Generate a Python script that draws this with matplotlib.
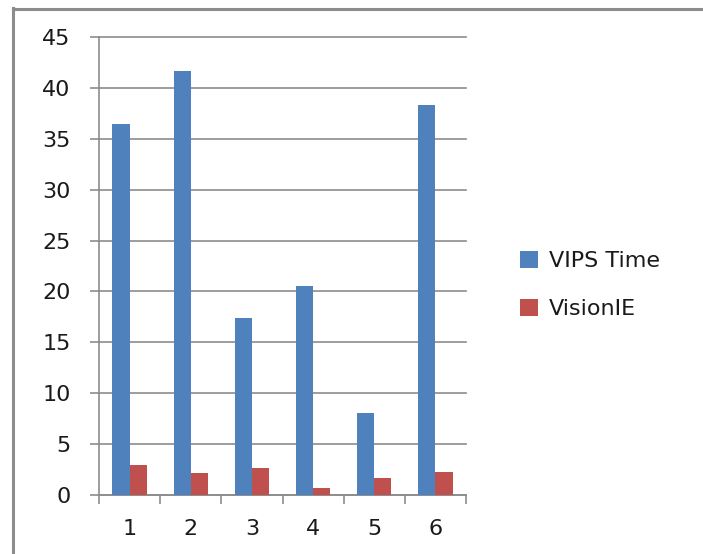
import matplotlib.pyplot as plt
import numpy as np
from matplotlib.patches import Patch
from matplotlib.lines import Line2D

# data
categories = ["1", "2", "3", "4", "5", "6"]
vips_time = [36.5, 41.7, 17.4, 20.5, 8.1, 38.3]
vision_ie = [2.9, 2.2, 2.65, 0.65, 1.7, 2.3]
series_names = ["VIPS Time", "VisionIE"]

blue = "#4f81bd"
red = "#c0504d"
grid_col = "#8c8c8c"
text_col = "#1a1a1a"

W, H = 703, 554
fig = plt.figure(figsize=(W / 100, H / 100), dpi=100)
fig.patch.set_facecolor("white")

# outer chart frame (only left/top visible in the crop)
fig.add_artist(Line2D([12.5 / W, 12.5 / W], [0, 1 - 8 / H], transform=fig.transFigure,
                      color="#8c8c8c", lw=2.2))
fig.add_artist(Line2D([12.5 / W, 1], [1 - 8.5 / H, 1 - 8.5 / H], transform=fig.transFigure,
                      color="#8c8c8c", lw=2.2))

ax = fig.add_axes([99 / W, 59 / H, (466 - 99) / W, (495 - 37) / H])

x = np.arange(1, len(categories) + 1)
bw = 0.28
ax.bar(x - bw / 2, vips_time, bw, color=blue, label=series_names[0], zorder=3)
ax.bar(x + bw / 2, vision_ie, bw, color=red, label=series_names[1], zorder=3)

ax.set_xlim(0.5, 6.5)
ax.set_ylim(0, 45)
ax.set_yticks(np.arange(0, 46, 5))
ax.yaxis.grid(True, color=grid_col, lw=1.2, zorder=0)
ax.set_axisbelow(True)
for gl in ax.get_ygridlines():
    gl.set_clip_on(False)

ax.set_xticks(x)
ax.set_xticklabels(categories)
ax.set_xticks(np.arange(0.5, 6.6, 1), minor=True)
ax.tick_params(axis="x", which="major", length=0, pad=17, labelsize=16, labelcolor=text_col)
ax.tick_params(axis="x", which="minor", length=6.5, width=1.2, color=grid_col, direction="out")
ax.tick_params(axis="y", length=6.5, width=1.2, color=grid_col, pad=14, labelsize=16,
               labelcolor=text_col)

for s in ["top", "right"]:
    ax.spines[s].set_visible(False)
for s in ["left", "bottom"]:
    ax.spines[s].set_color(grid_col)
    ax.spines[s].set_linewidth(1.2)

handles = [Patch(facecolor=blue), Patch(facecolor=red)]
fig.legend(handles, series_names, loc="center left", bbox_to_anchor=(500 / W, 1 - 285 / H),
           frameon=False, fontsize=16, handlelength=0.8, handleheight=0.8,
           handletextpad=0.5, labelspacing=1.25, labelcolor=text_col)

fig.savefig("out.png", dpi=100)
